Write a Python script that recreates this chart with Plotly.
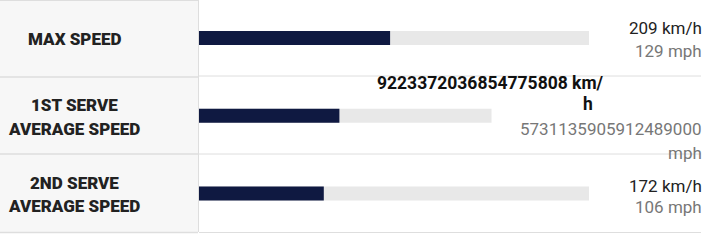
import plotly.graph_objects as go

W, H = 714, 240

# ---- data ----
row_labels = [["MAX SPEED"], ["1ST SERVE", "AVERAGE SPEED"], ["2ND SERVE", "AVERAGE SPEED"]]
kmh_lines = [["209 km/h"], ["9223372036854775808 km/", "h"], ["172 km/h"]]
mph_lines = [["129 mph"], ["5731135905912489000", "mph"], ["106 mph"]]
kmh_bold = [False, True, False]
track_len = [1.0, 0.75, 1.0]      # bar track length (fraction of full track)
fill_pct = [0.49, 0.48, 0.32]     # filled share of each track

rows = list(range(len(row_labels)))
fill_len = [p * t for p, t in zip(fill_pct, track_len)]

NAVY = "#0f1941"
TRACK = "#e8e8e8"
LINE = "#dedede"

def py(px):
    return 1 - px / H

fig = go.Figure()
fig.add_trace(go.Bar(y=rows, x=track_len, orientation="h", width=0.18,
                     marker=dict(color=TRACK, line=dict(width=0)), hoverinfo="skip"))
fig.add_trace(go.Bar(y=rows, x=fill_len, orientation="h", width=0.18,
                     marker=dict(color=NAVY, line=dict(width=0)), hoverinfo="skip"))

shapes = [
    dict(type="rect", xref="paper", yref="paper", x0=0, x1=198 / W, y0=py(232), y1=1,
         fillcolor="#f7f7f7", line=dict(width=0), layer="below"),
    dict(type="line", xref="paper", yref="paper", x0=198.5 / W, x1=198.5 / W, y0=py(232), y1=1,
         line=dict(color=LINE, width=1)),
    dict(type="line", xref="paper", yref="paper", x0=0, x1=198 / W, y0=py(0.5), y1=py(0.5),
         line=dict(color=LINE, width=1)),
]
for sep_l, sep_r in [(77, 76), (154, 154), (232.5, 232.5)]:
    shapes.append(dict(type="line", xref="paper", yref="paper", x0=0, x1=198 / W,
                       y0=py(sep_l), y1=py(sep_l), line=dict(color=LINE, width=1.5)))
    shapes.append(dict(type="line", xref="paper", yref="paper", x0=199 / W, x1=701 / W,
                       y0=py(sep_r), y1=py(sep_r), line=dict(color=LINE, width=1)))

ann = []
label_y = [[39], [105, 128.5], [183, 206]]
for lines, ys in zip(row_labels, label_y):
    for t, yy in zip(lines, ys):
        ann.append(dict(text=t, xref="paper", yref="paper", x=74 / W, y=py(yy),
                        xanchor="center", yanchor="middle", showarrow=False,
                        font=dict(family="Roboto", size=17, weight=900, color="#222222")))

km_y = [[27.5], [82.5, 104], [185.5]]
km_x = [[701], [603, 592], [701]]
mph_y = [[51], [128.5, 152.5], [206.5]]
for i in rows:
    for t, yy, xx in zip(kmh_lines[i], km_y[i], km_x[i]):
        ann.append(dict(text=t, xref="paper", yref="paper", xshift=3,
                        x=xx / W, y=py(yy), xanchor="right", yanchor="middle", showarrow=False,
                        font=dict(family="Roboto", size=17.5 if kmh_bold[i] else 17,
                                  weight=700 if kmh_bold[i] else 400,
                                  color="#111111" if kmh_bold[i] else "#222222")))
    for t, yy in zip(mph_lines[i], mph_y[i]):
        ann.append(dict(text=t, xref="paper", yref="paper", x=701 / W, y=py(yy), xshift=3,
                        xanchor="right", yanchor="middle", showarrow=False,
                        font=dict(family="Roboto", size=17, color="#777777")))

# y axis: row 0 at px 38, spacing 77.75 px
sp = 77.75
fig.update_layout(
    width=W, height=H, margin=dict(l=0, r=0, t=0, b=0),
    paper_bgcolor="white", plot_bgcolor="rgba(0,0,0,0)",
    barmode="overlay", showlegend=False,
    xaxis=dict(domain=[199 / W, 589 / W], range=[0, 1], visible=False, fixedrange=True),
    yaxis=dict(range=[(H - 38) / sp, -38 / sp], visible=False, fixedrange=True),
    shapes=shapes, annotations=ann,
)
fig.write_html("out.html")
